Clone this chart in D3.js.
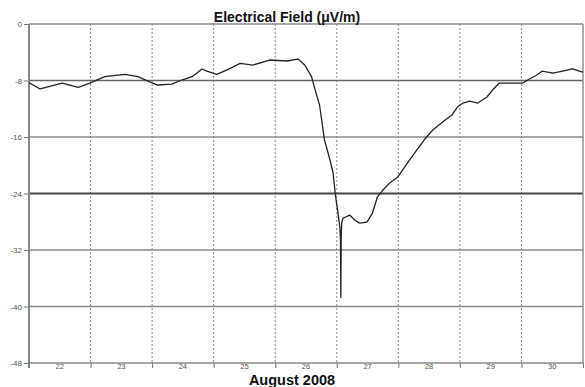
<!DOCTYPE html>
<html><head><meta charset="utf-8">
<script src="https://cdn.jsdelivr.net/npm/d3@7"></script>
<style>body{margin:0;background:#fff}svg{display:block}</style>
</head><body>
<script>
const dayTicks = [22,23,24,25,26,27,28,29,30,31];
const dayLabels = [22,23,24,25,26,27,28,29,30];
const yTicks = [0,-8,-16,-24,-32,-40,-48];
const days = [22.0,22.18,22.54,22.80,22.99,23.23,23.56,23.77,23.96,24.09,24.32,24.48,24.65,24.81,24.89,25.05,25.21,25.43,25.64,25.91,26.19,26.37,26.48,26.59,26.64,26.72,26.80,26.89,26.94,26.98,27.02,27.05,27.06,27.066,27.072,27.08,27.10,27.21,27.29,27.37,27.49,27.58,27.66,27.75,27.86,27.99,28.18,28.43,28.56,28.72,28.87,28.96,29.05,29.16,29.29,29.44,29.53,29.64,29.86,30.02,30.13,30.25,30.34,30.42,30.51,30.67,30.83,30.94,31.0];
const field = [-8.3,-9.2,-8.36,-8.97,-8.36,-7.46,-7.12,-7.46,-8.2,-8.64,-8.5,-7.93,-7.46,-6.37,-6.66,-7.12,-6.52,-5.57,-5.81,-5.10,-5.24,-4.96,-5.81,-7.46,-9.07,-11.47,-16.4,-19.26,-21.1,-24.36,-26.77,-28.75,-30.6,-38.7,-30.0,-28.2,-27.5,-27.05,-27.76,-28.19,-28.05,-26.77,-24.5,-23.5,-22.5,-21.67,-19.26,-16.29,-15.01,-13.88,-12.89,-11.76,-11.19,-10.91,-11.19,-10.34,-9.35,-8.36,-8.36,-8.36,-7.79,-7.22,-6.66,-6.80,-6.94,-6.66,-6.37,-6.66,-6.8];

const W=585,H=387;
const L=29,R=583,T=24,B=363;
const svg=d3.select("body").append("svg").attr("width",W).attr("height",H);
const x=d3.scaleLinear().domain([22,31]).range([L,R]);
const y=d3.scaleLinear().domain([-48,0]).range([B,T]);

// vertical dotted grid
svg.append("g").selectAll("line").data(dayTicks.filter(d=>d>22&&d<31)).join("line")
  .attr("x1",d=>x(d)).attr("x2",d=>x(d)).attr("y1",T).attr("y2",B)
  .attr("stroke","#888").attr("stroke-width",1).attr("stroke-dasharray","2,2");

// horizontal grid
svg.append("g").selectAll("line").data(yTicks).join("line")
  .attr("x1",L).attr("x2",R).attr("y1",d=>y(d)).attr("y2",d=>y(d))
  .attr("stroke",d=>d===-24?"#444":(d===-8?"#666":"#8a8a8a"))
  .attr("stroke-width",d=>d===-24?2:1.4);

// frame sides
svg.append("line").attr("x1",L).attr("x2",L).attr("y1",T).attr("y2",B+5).attr("stroke","#888").attr("stroke-width",2);
svg.append("line").attr("x1",R).attr("x2",R).attr("y1",T).attr("y2",B).attr("stroke","#888").attr("stroke-width",1.4);

// y axis
const ya=d3.axisLeft(y).tickValues(yTicks).tickSize(5).tickPadding(2).tickFormat(d=>d);
const gy=svg.append("g").attr("transform",`translate(${L},0)`).call(ya);
gy.select(".domain").remove();
gy.selectAll("line").attr("stroke","#777");
gy.selectAll("text").attr("font-family","Liberation Sans, Arial, sans-serif").attr("font-size",8).attr("fill","#555");

// x axis ticks
const xa=d3.axisBottom(x).tickValues(dayTicks).tickSize(5).tickFormat("");
const gx=svg.append("g").attr("transform",`translate(0,${B})`).call(xa);
gx.select(".domain").remove();
gx.selectAll("line").attr("stroke","#777");
svg.append("g").selectAll("text").data(dayLabels).join("text")
  .attr("x",d=>x(d+0.5)).attr("y",B+6).attr("text-anchor","middle")
  .attr("font-family","Liberation Sans, Arial, sans-serif").attr("font-size",7.5).attr("fill","#555")
  .text(d=>d);

// data line
const line=d3.line().x((d,i)=>x(days[i])).y((d,i)=>y(field[i]));
svg.append("path").datum(field).attr("d",line).attr("fill","none")
  .attr("stroke","#222").attr("stroke-width",1.3).attr("stroke-linejoin","round");

// titles
svg.append("text").attr("x",287).attr("y",21.5).attr("text-anchor","middle")
  .attr("font-family","Liberation Sans, Arial, sans-serif").attr("font-weight","bold").attr("font-size",14).attr("fill","#111")
  .text("Electrical Field (μV/m)");
svg.append("text").attr("x",292).attr("y",385).attr("text-anchor","middle")
  .attr("font-family","Liberation Sans, Arial, sans-serif").attr("font-weight","bold").attr("font-size",14.5).attr("fill","#111")
  .text("August 2008");
</script>
</body></html>
